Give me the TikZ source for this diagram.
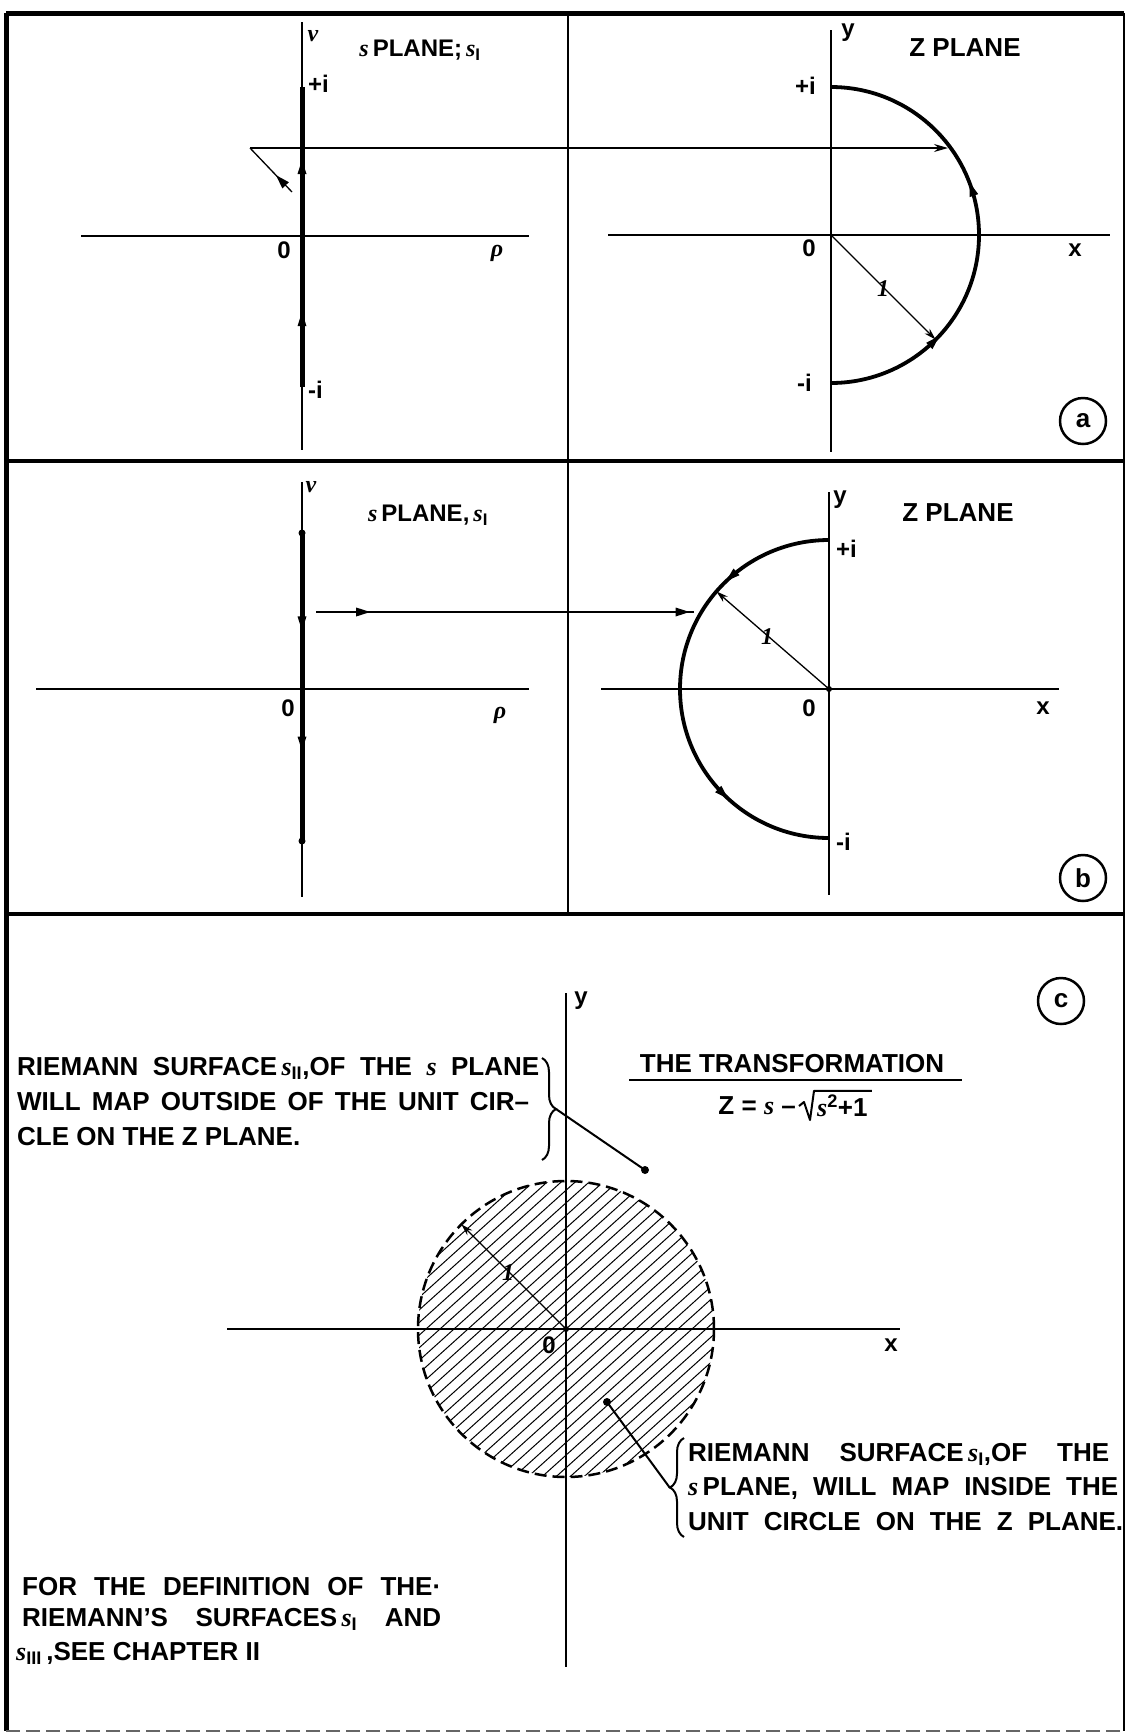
\documentclass[tikz,border=0pt]{standalone}
\usepackage{fontspec}
\setmainfont{Liberation Sans}
\newfontfamily\serfnt{Liberation Serif}
\usetikzlibrary{arrows.meta,decorations.markings,decorations.pathreplacing}
\newcommand\mytri{\fill (5pt,0pt) -- (-9pt,4.5pt) -- (-9pt,-4.5pt) -- cycle;}
\newcommand\vs{{\serfnt\bfseries\itshape s}}
\newcommand\vsym[1]{{\serfnt\bfseries\itshape #1}}
\begin{document}
\begin{tikzpicture}[x=1pt,y=-1pt,
  ax/.style={line width=1.6pt},
  seg/.style={line width=5pt},
  curve/.style={line width=3.8pt},
  thin/.style={line width=1.3pt},
  lab/.style={font=\fontsize{24}{28}\selectfont\bfseries, inner sep=0pt},
  txt/.style={font=\fontsize{26}{34}\selectfont\bfseries, inner sep=0pt, anchor=west},
  ttl/.style={font=\fontsize{26}{34}\selectfont\bfseries, inner sep=0pt},
  ring/.style={draw, circle, line width=2.5pt, minimum size=46pt, inner sep=0pt,
               font=\fontsize{26}{30}\selectfont\bfseries},
  hatch/.style={line width=1pt},
  dotmark/.style={fill=black}
]
\useasboundingbox (0,0) rectangle (1128,1735);
\fill[white] (0,0) rectangle (1128,1735);

% ---------------- frame ----------------
\coordinate (TL) at (6,13);
\coordinate (TR) at (1124,13);
\coordinate (BL) at (6,1731);
\coordinate (BR) at (1124,1731);
\coordinate (ABl) at (6,461);
\coordinate (ABr) at (1124,461);
\coordinate (BCl) at (6,914);
\coordinate (BCr) at (1124,914);
\coordinate (MidT) at (568,13);
\coordinate (MidB) at (568,914);
\draw[line width=5pt] (TL) -- (TR);
\draw[line width=5pt] (TL) -- (BL);
\draw[line width=2.5pt] (TR) -- (BR);
\draw[line width=3.5pt] (ABl) -- (ABr);
\draw[line width=4pt] (BCl) -- (BCr);
\draw[line width=2pt] (MidT) -- (MidB);
\draw[line width=2pt, black!60, dash pattern=on 14pt off 6pt] (BL) -- (BR);

% ================= PANEL (a) =================
% s plane
\coordinate (aVtop) at (302,22);
\coordinate (aVbot) at (302,450);
\coordinate (aRl) at (81,236);
\coordinate (aRr) at (529,236);
\draw[ax] (aVtop) -- (aVbot);
\draw[line width=2.2pt] (aRl) -- (aRr);
\coordinate (aSegTop) at (302,87);
\coordinate (aSegBot) at (302,387);
\draw[seg, postaction={decorate, decoration={markings,
   mark=at position 0.233 with {\mytri},
   mark=at position 0.74 with {\mytri}}}] (aSegBot) -- (aSegTop);
\coordinate (aP) at (250,148);
\coordinate (aQ) at (292,192);
\coordinate (aHit) at (948,148);
\draw[thin, postaction={decorate, decoration={markings,
   mark=at position 0.3 with {\mytri}}}] (aQ) -- (aP);
\draw[thin, -{Stealth[length=14pt,width=8pt]}] (aP) -- (aHit);
\node[lab] (aV) at (313,36) {\vsym{v}};
\node[lab] (aTitle) at (420,50) {\vs\,PLANE;\,\vs\textsubscript{I}};
\node[lab, anchor=west] (aPi) at (308,84) {+i};
\node[lab, anchor=west] (aMi) at (308,390) {-i};
\node[lab] (aZero) at (284,250) {0};
\node[lab] (aRho) at (497,253) {\vsym{ρ}};

% z plane
\coordinate (aYtop) at (831,30);
\coordinate (aYbot) at (831,452);
\coordinate (aXl) at (608,235);
\coordinate (aXr) at (1110,235);
\coordinate (aO) at (831,235);
\draw[ax] (aYtop) -- (aYbot);
\draw[line width=2.2pt] (aXl) -- (aXr);
\draw[curve, postaction={decorate, decoration={markings,
   mark=at position 0.25 with {\mytri},
   mark=at position 0.605 with {\mytri}}}]
   (831,383) arc[start angle=90, end angle=-90, radius=148];
\coordinate (aR) at (935.6,339.6);
\draw[thin, -{Stealth[length=12pt,width=7pt]}] (aO) -- (aR);
\node[lab] (aY) at (848,33) {y};
\node[ttl] (aZp) at (965,48) {Z PLANE};
\node[lab, anchor=east] (aZPi) at (816,86) {+i};
\node[lab, anchor=east] (aZMi) at (812,383) {-i};
\node[lab] (aZZero) at (809,248) {0};
\node[lab] (aX) at (1075,250) {x};
\node[lab] (aOne) at (883,289) {\vsym{1}};
\node[ring] (circA) at (1083,421) {a};

% ================= PANEL (b) =================
\coordinate (bVtop) at (302,482);
\coordinate (bVbot) at (302,897);
\coordinate (bRl) at (36,689);
\coordinate (bRr) at (529,689);
\draw[ax] (bVtop) -- (bVbot);
\draw[line width=2.2pt] (bRl) -- (bRr);
\coordinate (bSegTop) at (302,533);
\coordinate (bSegBot) at (302,841);
\draw[seg, postaction={decorate, decoration={markings,
   mark=at position 0.30 with {\mytri},
   mark=at position 0.69 with {\mytri}}}] (bSegTop) -- (bSegBot);
\fill[dotmark] (bSegTop) circle[radius=3.5];
\fill[dotmark] (bSegBot) circle[radius=3.5];
\coordinate (bP) at (316,612);
\coordinate (bHit) at (694,612);
\draw[thin, postaction={decorate, decoration={markings,
   mark=at position 0.13 with {\mytri},
   mark=at position 0.975 with {\mytri}}}] (bP) -- (bHit);
\node[lab] (bV) at (311,487) {\vsym{v}};
\node[lab] (bTitle) at (428,515) {\vs\,PLANE,\,\vs\textsubscript{I}};
\node[lab] (bZero) at (288,708) {0};
\node[lab] (bRho) at (500,715) {\vsym{ρ}};

\coordinate (bYtop) at (829,492);
\coordinate (bYbot) at (829,895);
\coordinate (bXl) at (601,689);
\coordinate (bXr) at (1059,689);
\coordinate (bO) at (829,689);
\draw[ax] (bYtop) -- (bYbot);
\draw[line width=2.2pt] (bXl) -- (bXr);
\draw[curve, postaction={decorate, decoration={markings,
   mark=at position 0.232 with {\mytri},
   mark=at position 0.753 with {\mytri}}}]
   (829,540) arc[start angle=-90, end angle=-270, radius=149];
\coordinate (bR) at (716.4,591.4);
\draw[thin, -{Stealth[length=12pt,width=7pt]}] (bO) -- (bR);
\fill[dotmark] (bO) circle[radius=3];
\node[lab] (bY) at (840,500) {y};
\node[ttl] (bZp) at (958,513) {Z PLANE};
\node[lab, anchor=west] (bZPi) at (836,549) {+i};
\node[lab, anchor=west] (bZMi) at (836,842) {-i};
\node[lab] (bZZero) at (809,708) {0};
\node[lab] (bX) at (1043,708) {x};
\node[lab] (bOne) at (767,637) {\vsym{1}};
\node[ring] (circB) at (1083,878) {b};

% ================= PANEL (c) =================
\coordinate (cO) at (566,1329);
\coordinate (cYtop) at (566,993);
\coordinate (cYbot) at (566,1667);
\coordinate (cXl) at (227,1329);
\coordinate (cXr) at (900,1329);
\begin{scope}
  \clip (cO) circle[radius=148];
  \foreach \k in {-17,...,17} {
    \draw[hatch] ({566+\k*14-222},1529) -- ({566+\k*14+222},1129);
  }
\end{scope}
\draw[line width=2.5pt, dash pattern=on 12pt off 6pt] (cO) circle[radius=148];
\draw[ax] (cYtop) -- (cYbot);
\draw[line width=2.2pt] (cXl) -- (cXr);
\coordinate (cR) at (461.3,1224.3);
\draw[thin, -{Stealth[length=12pt,width=7pt]}] (cO) -- (cR);
\fill[dotmark] (cO) circle[radius=3];
\node[lab] (cY) at (581,1001) {y};
\node[lab] (cZero) at (549,1345) {0};
\node[lab] (cX) at (891,1345) {x};
\node[lab] (cOne) at (508,1273) {\vsym{1}};
\node[ring] (circC) at (1061,1001) {c};

% left annotation
\node[txt] (lt1) at (17,1068) {\makebox[522pt][s]{RIEMANN SURFACE\,\vs\textsubscript{II},OF THE \vs\ PLANE}};
\node[txt] (lt2) at (17,1102) {\makebox[512pt][s]{WILL MAP OUTSIDE OF THE UNIT CIR--}};
\node[txt] (lt3) at (17,1137) {CLE ON THE Z PLANE.};
\draw[line width=2pt, decorate, decoration={brace, amplitude=14pt}] (542,1058) -- (542,1160);
\coordinate (lTip) at (556,1109);
\coordinate (lDot) at (645,1170);
\draw[line width=2pt] (lTip) -- (lDot);
\fill[dotmark] (lDot) circle[radius=4];

% transformation
\node[ttl] (trT) at (792,1064) {THE TRANSFORMATION};
\draw[line width=2pt] (629,1080) -- (962,1080);
\node[ttl, anchor=east] (eqA) at (796,1106) {Z = \vs\ --};
\node[ttl, anchor=west] (eqB) at (817,1106) {\vs\textsuperscript{2}+1};
\draw[line width=2pt, line join=round] (799,1106) -- (804,1102) -- (810,1120)
   -- ([xshift=-3pt,yshift=4pt]eqB.north west) -- ([xshift=4pt,yshift=4pt]eqB.north east);

% right annotation
\node[txt] (rt1) at (688,1454) {\makebox[421pt][s]{RIEMANN SURFACE\,\vs\textsubscript{I},OF THE}};
\node[txt] (rt2) at (688,1488) {\makebox[430pt][s]{\vs\,PLANE, WILL MAP INSIDE THE}};
\node[txt] (rt3) at (688,1522) {\makebox[435pt][s]{UNIT CIRCLE ON THE Z PLANE.}};
\draw[line width=2pt, decorate, decoration={brace, amplitude=14pt}] (684,1537) -- (684,1438);
\coordinate (rTip) at (670,1488);
\coordinate (rDot) at (607,1402);
\draw[line width=2pt] (rTip) -- (rDot);
\fill[dotmark] (rDot) circle[radius=4];

% bottom-left note
\node[txt] (bt1) at (22,1587) {\makebox[419pt][s]{FOR THE DEFINITION OF THE·}};
\node[txt] (bt2) at (22,1619) {\makebox[419pt][s]{RIEMANN'S SURFACES\,\vs\textsubscript{I} AND}};
\node[txt] (bt3) at (16,1653) {\vs\textsubscript{III}\,,SEE CHAPTER II};
\end{tikzpicture}
\end{document}
